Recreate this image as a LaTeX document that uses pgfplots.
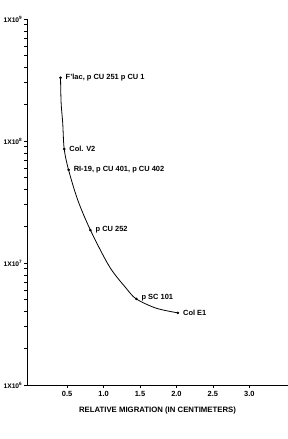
\documentclass[border=0pt]{standalone}
\usepackage{fontspec}
\setmainfont{Liberation Sans}
\usepackage{pgfplots}
\pgfplotsset{compat=1.18}
\begin{document}
\begin{tikzpicture}
\path[use as bounding box] (0bp,0bp) rectangle (288bp,439bp);
\begin{axis}[
  at={(27bp,54bp)}, anchor=south west,
  scale only axis, width=261bp, height=366bp,
  xmin=-0.05, xmax=3.53,
  ymode=log, ymin=1e6, ymax=1e9,
  axis lines=left, axis line style={-, line width=0.8pt},
  xtick={0.5,1.0,1.5,2.0,2.5,3.0},
  xticklabels={0.5,1.0,1.5,2.0,2.5,3.0},
  ytick={1e6,1e7,1e8,1e9},
  yticklabels={{1X10\textsuperscript{6}},{1X10\textsuperscript{7}},{1X10\textsuperscript{8}},{1X10\textsuperscript{9}}},
  minor ytick={},
  tick align=outside, major tick length=3bp,
  tick style={line width=0.6pt, black},
  xticklabel style={font=\fontsize{7.5}{8}\selectfont\bfseries},
  yticklabel style={font=\fontsize{6.7}{7}\selectfont\bfseries, inner sep=1.5bp},
  xlabel={RELATIVE MIGRATION (IN CENTIMETERS)},
  xlabel style={at={(axis description cs:0.5,0)}, anchor=center, yshift=-25.5bp, font=\fontsize{7.8}{9}\selectfont\bfseries},
  clip=false,
]
% curve
\addplot[black, line width=0.8pt, smooth, no marks] coordinates {
  (0.41,3.3e8) (0.418,2.05e8) (0.44,1.40e8) (0.46,8.6e7) (0.52,5.8e7) (0.646,3.28e7)
  (0.82,1.86e7) (1.081,9.33e6) (1.31,6.21e6) (1.45,5.07e6) (1.722,4.26e6) (2.02,3.9e6)
};
% measured points
\addplot[black, only marks, mark=*, mark size=1.1pt] coordinates {
  (0.41,3.3e8) (0.46,8.6e7) (0.52,5.8e7) (0.82,1.86e7) (1.45,5.07e6) (2.02,3.9e6)
};
\tikzset{lbl/.style={anchor=west, inner sep=0pt, xshift=5bp, font=\fontsize{7.5}{8}\selectfont\bfseries}}
\node[lbl] at (axis cs:0.41,3.3e8) {F'lac, p CU 251 p CU 1};
\node[lbl] at (axis cs:0.46,8.6e7) {Col. V2};
\node[lbl] at (axis cs:0.52,5.8e7) {RI-19, p CU 401, p CU 402};
\node[lbl] at (axis cs:0.82,1.86e7) {p CU 252};
\node[lbl, yshift=1.5bp] at (axis cs:1.45,5.07e6) {p SC 101};
\node[lbl] at (axis cs:2.02,3.9e6) {Col E1};
\end{axis}
\end{tikzpicture}
\end{document}
